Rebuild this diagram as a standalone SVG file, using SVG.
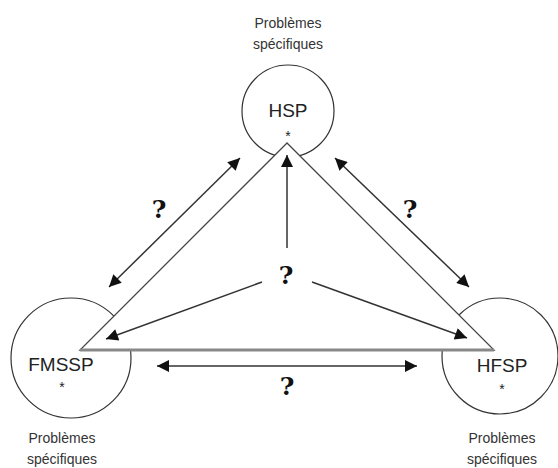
<svg xmlns="http://www.w3.org/2000/svg" width="558" height="468" viewBox="0 0 558 468">
<defs>
<style>
.circ{fill:#fff;stroke:#333;stroke-width:1.2}
.lbl{font-family:"Liberation Sans",Arial,sans-serif;font-size:14px;fill:#333;text-anchor:middle}
.name{font-family:"Liberation Sans",Arial,sans-serif;font-size:19px;fill:#222;text-anchor:middle}
.star{font-family:"Liberation Sans",Arial,sans-serif;font-size:14px;fill:#222;text-anchor:middle}
.q{font-family:"DejaVu Serif","Liberation Serif",serif;font-weight:bold;font-size:25px;fill:#111;text-anchor:middle}
.arr{stroke:#333;stroke-width:1.5;fill:none}
</style>
<marker id="ah" viewBox="0 0 10 10" refX="10" refY="5" markerWidth="18" markerHeight="12" markerUnits="userSpaceOnUse" orient="auto-start-reverse">
<path d="M0,0 L10,5 L0,10 z" fill="#111"/>
</marker>
</defs>
<g id="node-hsp">
<text class="lbl" x="288" y="28">Problèmes</text>
<text class="lbl" x="288" y="49">spécifiques</text>
<circle class="circ" cx="288" cy="111" r="46"/>
<text class="name" x="288" y="117">HSP</text>
<text class="star" x="288" y="141">*</text>
</g>
<g id="node-fmssp">
<circle class="circ" cx="71" cy="358" r="60"/>
<text class="name" x="61" y="371">FMSSP</text>
<text class="star" x="62" y="392">*</text>
<text class="lbl" x="62" y="443">Problèmes</text>
<text class="lbl" x="62" y="464">spécifiques</text>
</g>
<g id="node-hfsp">
<circle class="circ" cx="500" cy="356" r="58"/>
<text class="name" x="502" y="372">HFSP</text>
<text class="star" x="502" y="394">*</text>
<text class="lbl" x="502" y="443">Problèmes</text>
<text class="lbl" x="502" y="464">spécifiques</text>
</g>
<g id="triangle">
<polygon points="287,143 80,350 494,350" fill="#fff" stroke="#444" stroke-width="1.3"/>
<line x1="80" y1="350" x2="494" y2="350" stroke="#888" stroke-width="3"/>
</g>
<g id="connectors">
<line class="arr" x1="240" y1="158" x2="109" y2="287" marker-start="url(#ah)" marker-end="url(#ah)"/>
<line class="arr" x1="335" y1="158" x2="469" y2="287" marker-start="url(#ah)" marker-end="url(#ah)"/>
<line class="arr" x1="287" y1="248" x2="287" y2="155" marker-end="url(#ah)"/>
<line class="arr" x1="262" y1="282" x2="106" y2="339" marker-end="url(#ah)"/>
<line class="arr" x1="312" y1="282" x2="467" y2="338" marker-end="url(#ah)"/>
<line class="arr" x1="157" y1="366" x2="417" y2="366" marker-start="url(#ah)" marker-end="url(#ah)"/>
</g>
<g id="labels">
<text class="q" x="159" y="218">?</text>
<text class="q" x="410" y="218">?</text>
<text class="q" x="286" y="284">?</text>
<text class="q" x="287" y="395">?</text>
</g>
</svg>
